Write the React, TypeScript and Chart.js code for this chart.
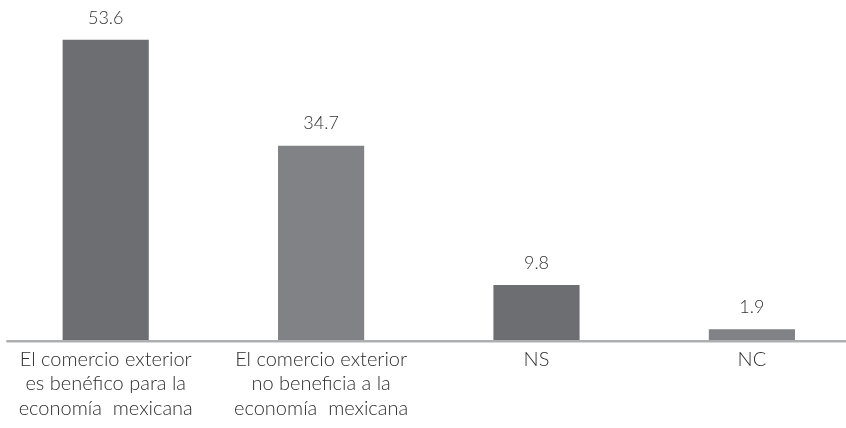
import React, { useEffect, useRef } from "react";
import { Chart, registerables } from "chart.js";

Chart.register(...registerables);

const categories: string[][] = [
  ["El comercio exterior", "es benéfico para la", "economía  mexicana"],
  ["El comercio exterior", "no beneficia a la", "economía  mexicana"],
  ["NS"],
  ["NC"],
];
const values: number[] = [53.6, 34.7, 9.8, 1.9];
const valueLabels: string[] = ["53.6", "34.7", "9.8", "1.9"];
const barColors: string[] = ["#6d6e71", "#818285", "#6d6e71", "#818285"];

const FONT = "Lato, 'Open Sans', sans-serif";
const SHIFT = 2.3;

const valueLabelPlugin = {
  id: "valueLabels",
  afterDatasetsDraw(chart: any) {
    const ctx = chart.ctx;
    const meta = chart.getDatasetMeta(0);
    ctx.save();
    const yBase = chart.scales.y.getPixelForValue(0);
    ctx.strokeStyle = "#aeafb1";
    ctx.lineWidth = 2.5;
    ctx.beginPath();
    ctx.moveTo(6 + SHIFT, yBase + 1.2);
    ctx.lineTo(chart.width, yBase + 1.2);
    ctx.stroke();
    ctx.font = `300 18px ${FONT}`;
    ctx.fillStyle = "#333333";
    ctx.textAlign = "center";
    ctx.textBaseline = "middle";
    meta.data.forEach((bar: any, i: number) => {
      ctx.fillText(valueLabels[i], bar.x, bar.y - 22);
    });
    ctx.restore();
  },
};

export default function App() {
  const canvasRef = useRef<HTMLCanvasElement | null>(null);

  useEffect(() => {
    if (!canvasRef.current) return;
    const chart = new Chart(canvasRef.current, {
      type: "bar",
      data: {
        labels: categories as any,
        datasets: [
          {
            data: values,
            backgroundColor: barColors,
            borderWidth: 0,
            barPercentage: 0.4,
            categoryPercentage: 1,
          },
        ],
      },
      options: {
        animation: false,
        responsive: true,
        maintainAspectRatio: false,
        layout: { padding: { top: 4, left: 0, right: 0, bottom: 0 } },
        plugins: {
          legend: { display: false },
          tooltip: { enabled: false },
        },
        scales: {
          x: {
            grid: { display: false, drawTicks: false },
            border: { display: false },
            afterFit(scale: any) {
              scale.height = 88;
            },
            ticks: {
              color: "#2e2e2e",
              padding: 7,
              maxRotation: 0,
              autoSkip: false,
              font: { family: FONT, size: 20, weight: "300", lineHeight: 1.225 },
            },
          },
          y: {
            display: false,
            min: 0,
            max: 60,
          },
        },
      },
      plugins: [valueLabelPlugin],
    });
    return () => chart.destroy();
  }, []);

  return (
    <div
      style={{
        position: "fixed",
        left: 0,
        top: 0,
        width: 846,
        height: 428,
        overflow: "hidden",
        background: "#ffffff",
      }}
    >
      <div
        style={{
          position: "absolute",
          left: -SHIFT,
          top: 0,
          width: 861.6,
          height: 428,
        }}
      >
        <canvas ref={canvasRef} />
      </div>
    </div>
  );
}
